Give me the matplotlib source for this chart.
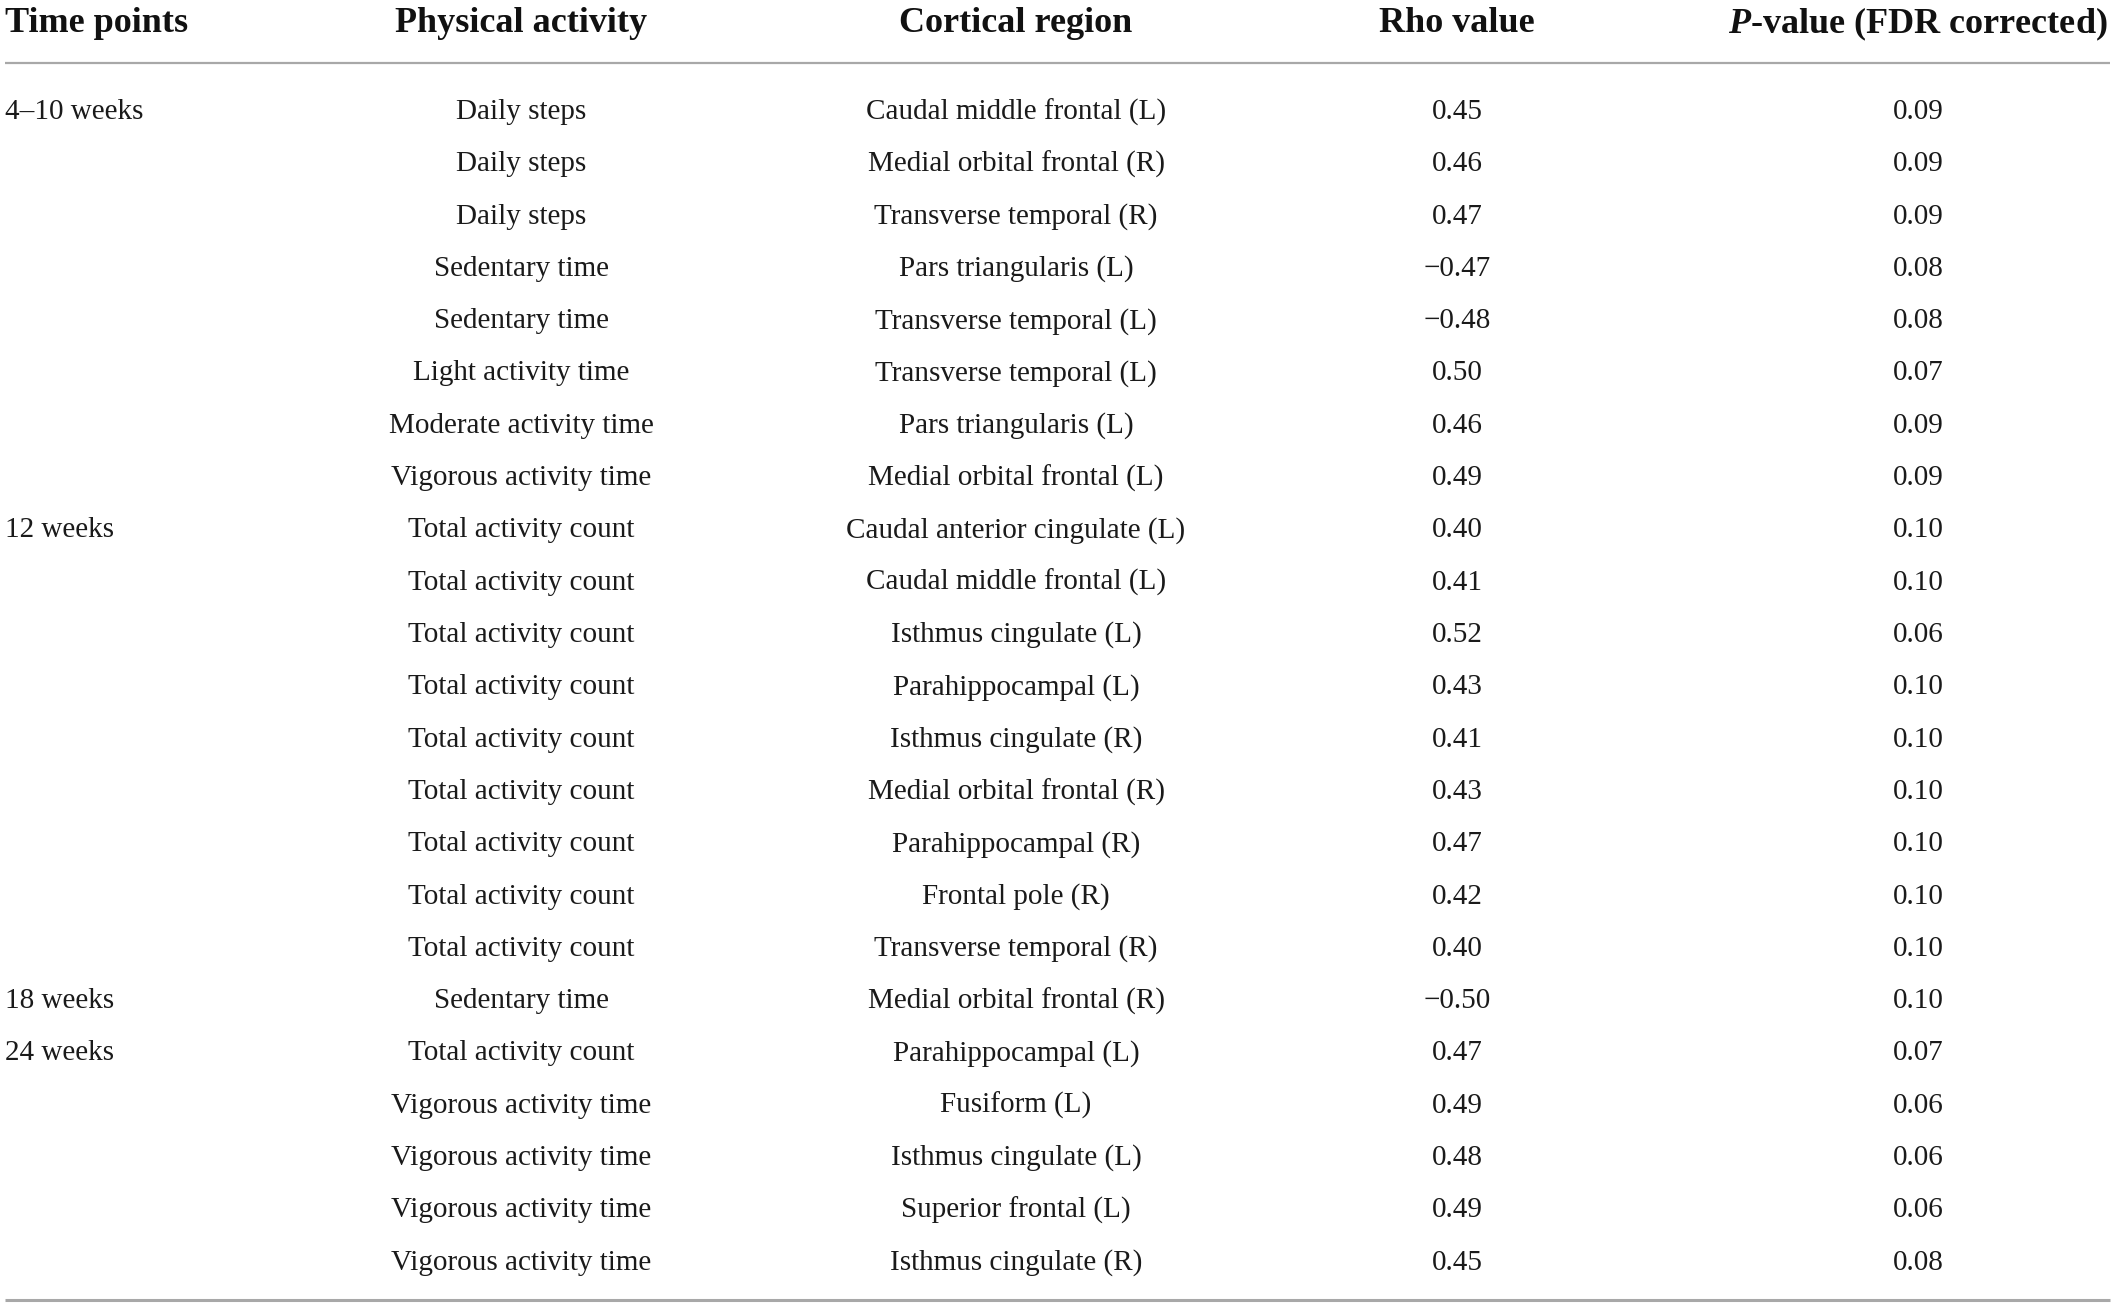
import matplotlib
matplotlib.use("Agg")
import matplotlib.pyplot as plt

plt.rcParams["mathtext.fontset"] = "custom"
plt.rcParams["mathtext.it"] = "Liberation Serif:italic:bold"
plt.rcParams["mathtext.rm"] = "Liberation Serif:bold"
plt.rcParams["mathtext.bf"] = "Liberation Serif:bold"

columns = ["Time points", "Physical activity", "Cortical region", "Rho value", "$\\mathit{P}$-value (FDR corrected)"]

time_points = ["4–10 weeks", "", "", "", "", "", "", "",
               "12 weeks", "", "", "", "", "", "", "", "",
               "18 weeks",
               "24 weeks", "", "", "", ""]

activities = ["Daily steps", "Daily steps", "Daily steps", "Sedentary time", "Sedentary time",
              "Light activity time", "Moderate activity time", "Vigorous activity time",
              "Total activity count", "Total activity count", "Total activity count",
              "Total activity count", "Total activity count", "Total activity count",
              "Total activity count", "Total activity count", "Total activity count",
              "Sedentary time",
              "Total activity count", "Vigorous activity time", "Vigorous activity time",
              "Vigorous activity time", "Vigorous activity time"]

regions = ["Caudal middle frontal (L)", "Medial orbital frontal (R)", "Transverse temporal (R)",
           "Pars triangularis (L)", "Transverse temporal (L)", "Transverse temporal (L)",
           "Pars triangularis (L)", "Medial orbital frontal (L)",
           "Caudal anterior cingulate (L)", "Caudal middle frontal (L)", "Isthmus cingulate (L)",
           "Parahippocampal (L)", "Isthmus cingulate (R)", "Medial orbital frontal (R)",
           "Parahippocampal (R)", "Frontal pole (R)", "Transverse temporal (R)",
           "Medial orbital frontal (R)",
           "Parahippocampal (L)", "Fusiform (L)", "Isthmus cingulate (L)",
           "Superior frontal (L)", "Isthmus cingulate (R)"]

rho = [0.45, 0.46, 0.47, -0.47, -0.48, 0.50, 0.46, 0.49,
       0.40, 0.41, 0.52, 0.43, 0.41, 0.43, 0.47, 0.42, 0.40,
       -0.50,
       0.47, 0.49, 0.48, 0.49, 0.45]

pvals = [0.09, 0.09, 0.09, 0.08, 0.08, 0.07, 0.09, 0.09,
         0.10, 0.10, 0.06, 0.10, 0.10, 0.10, 0.10, 0.10, 0.10,
         0.10,
         0.07, 0.06, 0.06, 0.06, 0.08]

W, H = 2117, 1307
fig = plt.figure(figsize=(W / 100, H / 100), dpi=100)
ax = fig.add_axes([0, 0, 1, 1])
ax.set_xlim(0, W)
ax.set_ylim(H, 0)
ax.axis("off")

font = "Liberation Serif"
body_size = 21
head_size = 26

col_x = [5, 521, 1016, 1457, 1918]
col_ha = ["left", "center", "center", "center", "center"]

header_y = 24
for x, ha, label in zip(col_x, col_ha, columns):
    ax.text(x, header_y, label, ha=ha, va="center", fontsize=head_size,
            fontweight="bold", family=font, color="#111111")

line_color = "#a8a8a8"
ax.plot([5, 2110], [63, 63], color=line_color, lw=1.6, solid_capstyle="butt")

y0, dy = 112, 52.3
n = len(activities)
for i in range(n):
    y = y0 + i * dy
    vals = [time_points[i], activities[i], regions[i],
            f"{rho[i]:.2f}".replace("-", "−"), f"{pvals[i]:.2f}"]
    for x, ha, v in zip(col_x, col_ha, vals):
        if v:
            ax.text(x, y, v, ha=ha, va="center", fontsize=body_size,
                    family=font, color="#1a1a1a")

ax.plot([5, 2110], [1300, 1300], color=line_color, lw=2.2, solid_capstyle="butt")

fig.savefig("out.png", dpi=100, facecolor="white")
